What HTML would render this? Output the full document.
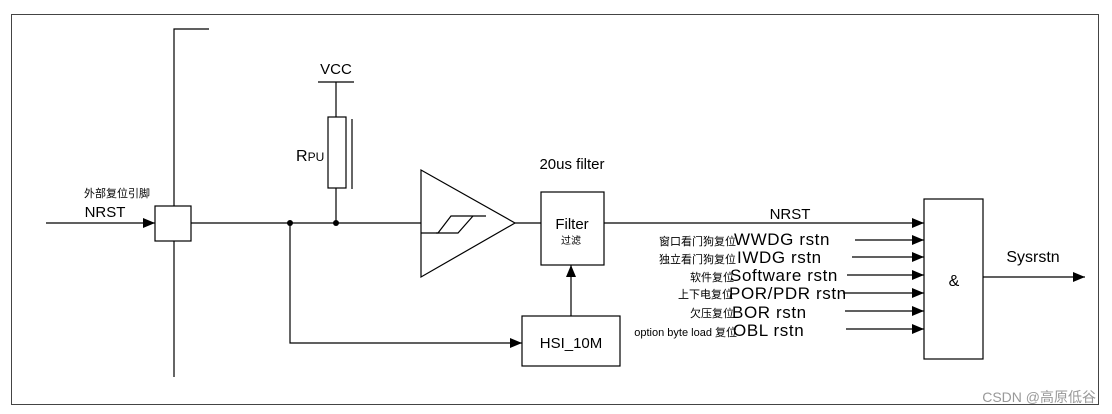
<!DOCTYPE html>
<html><head><meta charset="utf-8"><style>
body{margin:0;background:#fff;}
svg{display:block;}
text{font-family:"Liberation Sans","Noto Sans CJK SC",sans-serif;fill:#000;}
</style></head><body>
<svg width="1112" height="414" viewBox="0 0 1112 414">
<defs><marker id="a" markerWidth="12" markerHeight="10" refX="12" refY="5" orient="auto" markerUnits="userSpaceOnUse"><path d="M0,0 L12,5 L0,10 Z" fill="#000"/></marker></defs>
<rect x="11.5" y="14.5" width="1087" height="390" fill="none" stroke="#444" stroke-width="1"/>
<g stroke="#000" stroke-width="1.2" fill="none">
<polyline points="209,29 174,29 174,377"/>
<line x1="46" y1="223" x2="155" y2="223" marker-end="url(#a)"/>
<rect x="155" y="206" width="36" height="35" fill="#fff"/>
<line x1="191" y1="223" x2="421" y2="223"/>
<line x1="336" y1="82" x2="336" y2="117"/>
<line x1="318" y1="82" x2="354" y2="82"/>
<rect x="328" y="117" width="18" height="71"/>
<line x1="352" y1="119" x2="352" y2="189"/>
<line x1="336" y1="188" x2="336" y2="223"/>
<polyline points="290,223 290,343 522,343" marker-end="url(#a)"/>
<polygon points="421,170 421,277 515,223"/>
<polyline points="421,233 438,233 451,216 486,216"/>
<polyline points="436,233 458,233 473,216"/>
<line x1="515" y1="223" x2="541" y2="223"/>
<rect x="541" y="192" width="63" height="73"/>
<rect x="522" y="316" width="98" height="50"/>
<line x1="571" y1="316" x2="571" y2="265" marker-end="url(#a)"/>
<line x1="604" y1="223" x2="924" y2="223" marker-end="url(#a)"/>
<line x1="855" y1="240" x2="924" y2="240" marker-end="url(#a)"/>
<line x1="852" y1="257" x2="924" y2="257" marker-end="url(#a)"/>
<line x1="847" y1="275" x2="924" y2="275" marker-end="url(#a)"/>
<line x1="843" y1="293" x2="924" y2="293" marker-end="url(#a)"/>
<line x1="845" y1="311" x2="924" y2="311" marker-end="url(#a)"/>
<line x1="846" y1="329" x2="924" y2="329" marker-end="url(#a)"/>
<rect x="924" y="199" width="59" height="160"/>
<line x1="983" y1="277" x2="1085" y2="277" marker-end="url(#a)"/>
</g>
<circle cx="290" cy="223" r="3" fill="#000"/>
<circle cx="336" cy="223" r="3" fill="#000"/>
<text x="117" y="197" font-size="11" text-anchor="middle">外部复位引脚</text>
<text x="105" y="217" font-size="15" text-anchor="middle">NRST</text>
<text x="336" y="74" font-size="15" text-anchor="middle">VCC</text>
<text x="296" y="161" font-size="16">R<tspan font-size="12">PU</tspan></text>
<text x="572" y="169" font-size="15" text-anchor="middle">20us filter</text>
<text x="572" y="229" font-size="15" text-anchor="middle">Filter</text>
<text x="571" y="244" font-size="10" text-anchor="middle">过滤</text>
<text x="571" y="348" font-size="15" text-anchor="middle">HSI_10M</text>
<text x="790" y="219" font-size="15" text-anchor="middle">NRST</text>
<g font-size="11" text-anchor="end">
<text x="736" y="245">窗口看门狗复位</text>
<text x="736" y="263">独立看门狗复位</text>
<text x="734" y="281">软件复位</text>
<text x="733" y="298">上下电复位</text>
<text x="734" y="317">欠压复位</text>
<text x="737" y="336">option byte load 复位</text>
</g>
<g font-size="17" letter-spacing="0.6">
<text x="734" y="245">WWDG rstn</text>
<text x="737" y="263">IWDG rstn</text>
<text x="730" y="281">Software rstn</text>
<text x="729" y="299">POR/PDR rstn</text>
<text x="732" y="318">BOR rstn</text>
<text x="733" y="336">OBL rstn</text>
</g>
<text x="954" y="286" font-size="16" text-anchor="middle">&amp;</text>
<text x="1033" y="262" font-size="16" text-anchor="middle">Sysrstn</text>
<text x="1096" y="402" font-size="14" text-anchor="end" style="fill:#999">CSDN @高原低谷</text>
</svg>
</body></html>
